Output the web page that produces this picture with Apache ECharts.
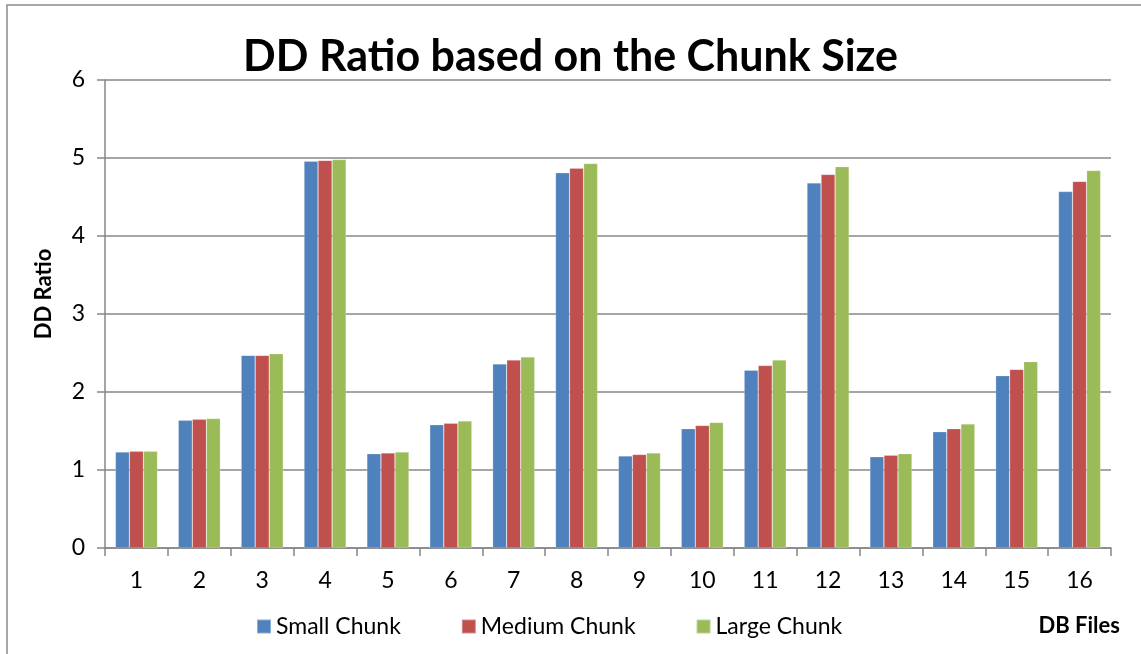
<!DOCTYPE html>
<html>
<head>
<meta charset="utf-8">
<script src="https://cdn.jsdelivr.net/npm/echarts@6/dist/echarts.min.js"></script>
<style>
  html, body { margin: 0; padding: 0; background: #fff; }
  #chart { width: 1141px; height: 654px; }
</style>
</head>
<body>
<div id="chart"></div>
<script>
// DB file numbers along the x axis
const dbFiles = ['1','2','3','4','5','6','7','8','9','10','11','12','13','14','15','16'];

// Deduplication ratio per file for each chunk size
const smallChunk  = [1.23, 1.64, 2.47, 4.96, 1.21, 1.58, 2.36, 4.81, 1.18, 1.53, 2.28, 4.68, 1.17, 1.49, 2.21, 4.57];
const mediumChunk = [1.24, 1.65, 2.47, 4.97, 1.22, 1.60, 2.41, 4.87, 1.20, 1.57, 2.34, 4.79, 1.19, 1.53, 2.29, 4.70];
const largeChunk  = [1.24, 1.66, 2.49, 4.98, 1.23, 1.63, 2.45, 4.93, 1.22, 1.61, 2.41, 4.89, 1.21, 1.59, 2.39, 4.84];

// Value axis ticks
const yTicks = [0, 1, 2, 3, 4, 5, 6];

const FONT = 'Lato';
const GRID_COLOR = '#878787';

const chart = echarts.init(document.getElementById('chart'), null, { renderer: 'canvas' });

function barSeries(name, data, color) {
  return {
    name: name,
    type: 'bar',
    data: data,
    barGap: '0%',
    barCategoryGap: '33%',
    itemStyle: { color: color, borderColor: 'rgba(255,255,255,0.35)', borderWidth: 0.6 }
  };
}

chart.setOption({
  animation: false,
  backgroundColor: '#ffffff',
  textStyle: { fontFamily: FONT, color: '#000' },
  title: {
    text: 'DD Ratio based on the Chunk Size',
    left: 'center',
    top: 31,
    textStyle: { fontFamily: FONT, fontWeight: 'bold', fontSize: 43, color: '#000' }
  },
  legend: {
    left: 251,
    top: 610,
    itemWidth: 14,
    itemHeight: 14,
    itemGap: 60,
    icon: 'rect',
    textStyle: { fontFamily: FONT, fontSize: 23, color: '#000' },
    data: ['Small Chunk', 'Medium Chunk', 'Large Chunk']
  },
  grid: { left: 105, right: 30, top: 80, bottom: 106, containLabel: false },
  xAxis: {
    type: 'category',
    data: dbFiles,
    boundaryGap: true,
    axisLine: { lineStyle: { color: GRID_COLOR, width: 1.5 } },
    axisTick: { show: true, length: 8, alignWithLabel: false, lineStyle: { color: GRID_COLOR, width: 1.5 } },
    axisLabel: { fontFamily: FONT, fontSize: 23, color: '#000', margin: 21 }
  },
  yAxis: {
    type: 'value',
    min: yTicks[0],
    max: yTicks[yTicks.length - 1],
    interval: 1,
    axisLine: { show: true, lineStyle: { color: GRID_COLOR, width: 1.5 } },
    axisTick: { show: true, length: 8, lineStyle: { color: GRID_COLOR, width: 1.5 } },
    axisLabel: { fontFamily: FONT, fontSize: 23, color: '#000', margin: 20 },
    splitLine: { show: true, lineStyle: { color: GRID_COLOR, width: 1.5 } }
  },
  series: [
    barSeries('Small Chunk', smallChunk, '#4F81BD'),
    barSeries('Medium Chunk', mediumChunk, '#C0504D'),
    barSeries('Large Chunk', largeChunk, '#9BBB59')
  ],
  graphic: [
    {
      type: 'rect',
      shape: { x: 7, y: 5, width: 1200, height: 720 },
      style: { fill: 'none', stroke: '#8c8c8c', lineWidth: 1.5 },
      silent: true
    },
    {
      // value axis title
      type: 'text',
      x: 44,
      y: 294,
      rotation: Math.PI / 2,
      style: {
        text: 'DD Ratio', fontFamily: FONT, fontWeight: 'bold', fontSize: 22, fill: '#000',
        align: 'center', verticalAlign: 'middle'
      }
    },
    {
      // category axis title
      type: 'text',
      right: 21,
      top: 615,
      style: { text: 'DB Files', fontFamily: FONT, fontWeight: 'bold', fontSize: 22, fill: '#000' }
    }
  ]
});
</script>
</body>
</html>
